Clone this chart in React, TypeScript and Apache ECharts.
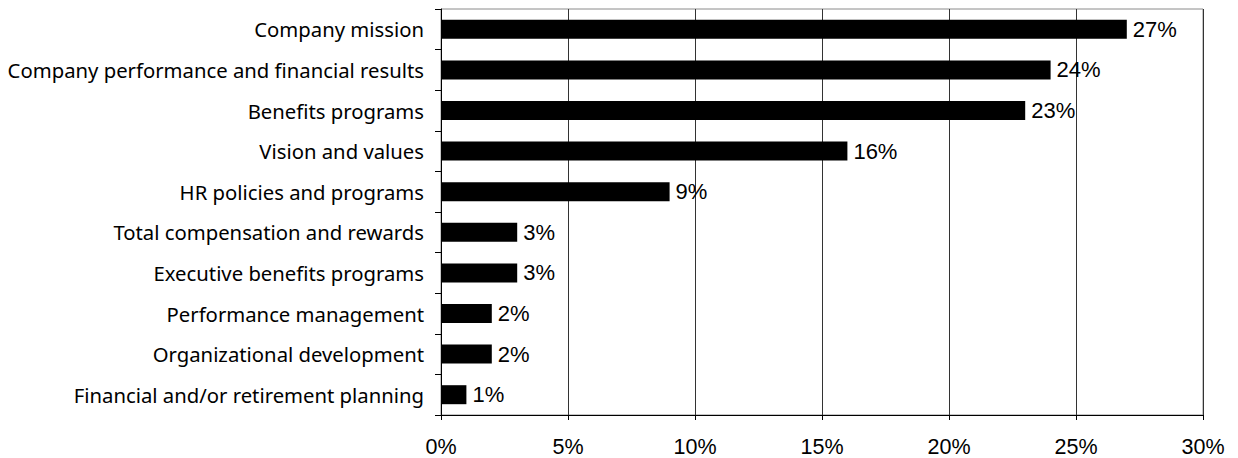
import React, { useEffect, useRef } from "react";
import * as echarts from "echarts";

const categories = [
  "Company mission",
  "Company performance and financial results",
  "Benefits programs",
  "Vision and values",
  "HR policies and programs",
  "Total compensation and rewards",
  "Executive benefits programs",
  "Performance management",
  "Organizational development",
  "Financial and/or retirement planning",
];
const values = [27, 24, 23, 16, 9, 3, 3, 2, 2, 1];
const xMin = 0;
const xMax = 30;
const xInterval = 5;

export default function App() {
  const ref = useRef<HTMLDivElement>(null);
  useEffect(() => {
    document.body.style.margin = "0";
    const chart = echarts.init(ref.current!, null, { renderer: "svg" });
    chart.setOption({
      animation: false,
      grid: {
        left: 441,
        right: 35,
        top: 9,
        bottom: 43,
        show: true,
        borderColor: "#8a8a8a",
        borderWidth: 1,
        backgroundColor: "transparent",
      },
      xAxis: {
        type: "value",
        min: xMin,
        max: xMax,
        interval: xInterval,
        axisLine: { show: true, lineStyle: { color: "#000", width: 1 } },
        axisTick: { show: true, length: 5, lineStyle: { color: "#000" } },
        splitLine: { show: true, lineStyle: { color: "#333", width: 1 } },
        axisLabel: {
          formatter: "{value}%",
          color: "#000",
          fontFamily: "Liberation Sans",
          fontSize: 21.5,
          margin: 21,
        },
      },
      yAxis: {
        type: "category",
        data: categories,
        inverse: true,
        axisLine: { show: true, lineStyle: { color: "#000", width: 1 } },
        axisTick: { show: true, length: 6, lineStyle: { color: "#000" } },
        axisLabel: {
          color: "#000",
          fontFamily: "Noto Sans",
          fontSize: 20.3,
          margin: 17,
        },
      },
      series: [
        {
          type: "bar",
          data: values,
          barWidth: 19,
          itemStyle: { color: "#000" },
          label: {
            show: true,
            position: "right",
            distance: 6,
            formatter: "{c}%",
            color: "#000",
            fontFamily: "Liberation Sans",
            fontSize: 22,
          },
        },
      ],
    });
    return () => chart.dispose();
  }, []);
  return <div ref={ref} style={{ width: 1238, height: 458 }} />;
}
